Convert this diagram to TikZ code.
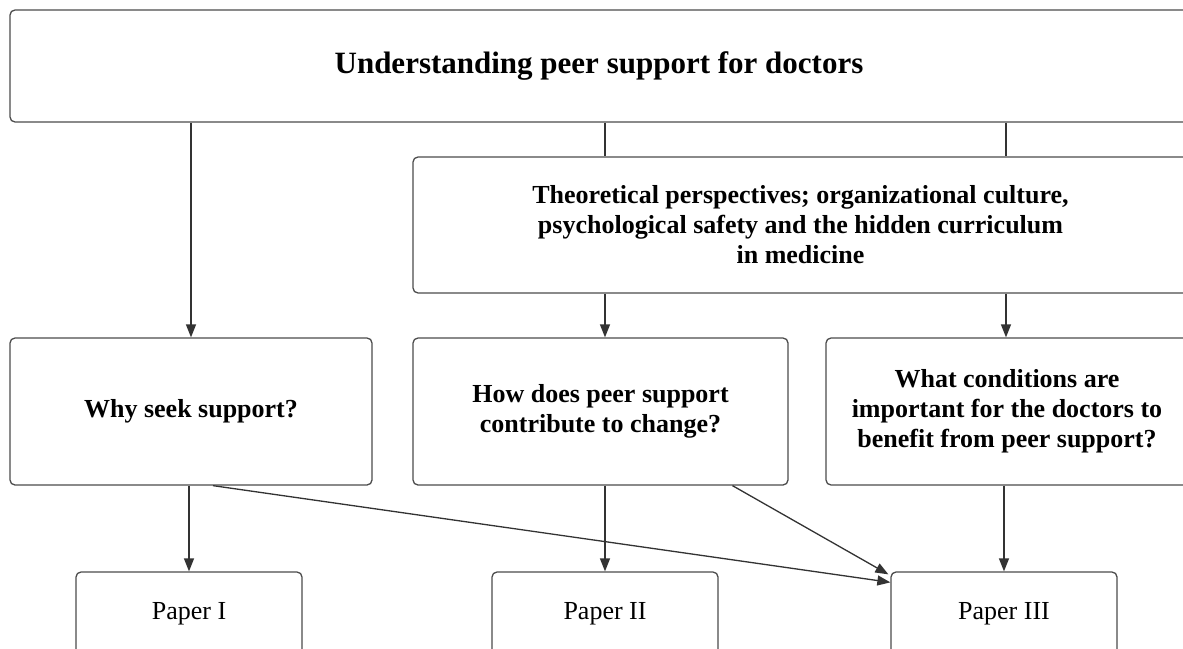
\documentclass[tikz,border=0pt]{standalone}
\usepackage{fontspec}
\setmainfont{Liberation Serif}
\usetikzlibrary{arrows.meta}
\begin{document}
\begin{tikzpicture}[x=1pt,y=-1pt,
  box/.style={draw=black!70, line width=1.3pt, rounded corners=5pt, fill=white, align=center, inner sep=0pt},
  qtext/.style={font=\fontsize{26}{30}\selectfont\bfseries},
  ptext/.style={font=\fontsize{26}{30}\selectfont},
  ln/.style={draw=black!80, line width=1.3pt},
  arr/.style={ln, -{Triangle[length=13pt,width=10pt]}}]
\useasboundingbox (0,0) rectangle (1183,648);
\clip (0,0) rectangle (1183,648);
\coordinate (xa) at (605,0);
\coordinate (xb) at (1006,0);
\node[box, minimum width=1178pt, minimum height=112pt, font=\fontsize{31}{37}\selectfont\bfseries] (top) at (599,66) {\raisebox{-3pt}{Understanding peer support for doctors}};
\node[box, qtext, minimum width=775pt, minimum height=136pt] (theo) at (800.5,225) {Theoretical perspectives; organizational culture,\\psychological safety and the hidden curriculum\\in medicine};
\node[box, qtext, minimum width=362pt, minimum height=147pt] (why) at (191,411.5) {Why seek support?};
\node[box, qtext, minimum width=375pt, minimum height=147pt] (how) at (600.5,411.5) {How does peer support\\contribute to change?};
\node[box, qtext, minimum width=362pt, minimum height=147pt] (what) at (1007,411.5) {What conditions are\\important for the doctors to\\benefit from peer support?};
\node[box, ptext, minimum width=226pt, minimum height=84pt] (p1) at (189,614) {Paper I};
\node[box, ptext, minimum width=226pt, minimum height=84pt] (p2) at (605,614) {Paper II};
\node[box, ptext, minimum width=226pt, minimum height=84pt] (p3) at (1004,614) {Paper III};
\draw[arr] (top.south -| why.north) -- (why.north);
\draw[ln] (top.south -| xa) -- (theo.north -| xa);
\draw[ln] (top.south -| xb) -- (theo.north -| xb);
\draw[arr] (theo.south -| xa) -- (how.north -| xa);
\draw[arr] (theo.south -| xb) -- (what.north -| xb);
\draw[arr] (why.south -| p1.north) -- (p1.north);
\draw[arr] (how.south -| p2.north) -- (p2.north);
\draw[arr] (what.south -| p3.north) -- (p3.north);
\draw[arr] ([xshift=22pt]why.south) -- ([yshift=-11pt]p3.north west);
\draw[arr] ([xshift=132pt]how.south) -- ([xshift=-2pt,yshift=-3pt]p3.north west);
\end{tikzpicture}
\end{document}
